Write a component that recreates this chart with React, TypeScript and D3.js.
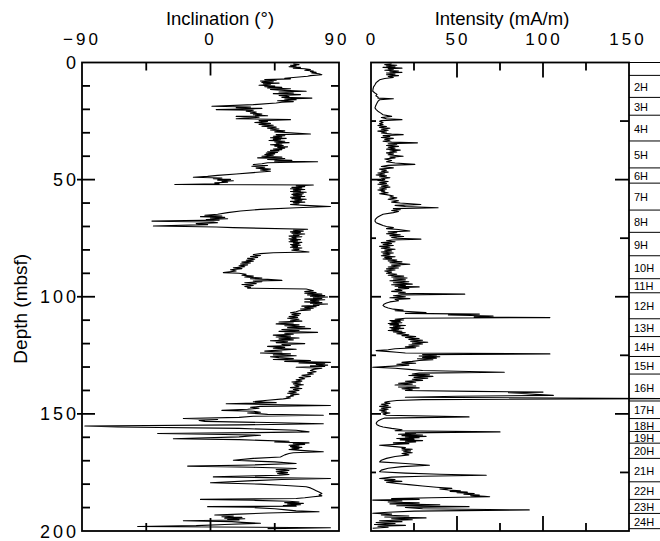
import React from "react";
import * as d3 from "d3";

// ---- data ----
const depthTicks = [0, 50, 100, 150, 200];
const depthMinor = [10, 20, 30, 40, 60, 70, 80, 90, 110, 120, 130, 140, 160, 170, 180, 190];
const depthRightTicks = [25, 50, 75, 100, 125, 150, 175];
const incTickLabels = [-90, 0, 90];
const incInnerTicks = [-45, 0, 45];
const intTickLabels = [0, 50, 100, 150];
const intInnerTicks = [25, 50, 75, 100, 125];

const coreBounds = [0, 5.5, 14.9, 22.5, 33.5, 45, 51.5, 63, 72.5, 82.5, 92.3, 98.3, 109.4, 117, 125.5, 133, 144.5, 152, 157.5, 162.5, 169, 179, 186.5, 192.5, 199];
const coreLabels = ["", "2H", "3H", "4H", "5H", "6H", "7H", "8H", "9H", "10H", "11H", "12H", "13H", "14H", "15H", "16H", "17H", "18H", "19H", "20H", "21H", "22H", "23H", "24H"];

// [depth (mbsf), inclination (deg)]
const inclination: [number, number][] = [
[0.6,58],[0.9,62],[1.2,56],[1.5,60],[1.8,55],[2.1,63],[2.4,58],[2.7,66],[3.0,70],[3.3,66],[3.6,72],[3.9,70],[4.2,74],[4.5,71],[4.8,76],[5.2,78],[5.6,70],[5.9,68],[6.3,60],[6.7,52],
[7.0,56],[7.3,38],[7.6,46],[7.9,35],[8.2,44],[8.5,36],[8.8,48],[9.1,37],[9.4,42],[9.7,34],[10.0,45],[10.3,38],[10.6,50],[10.9,40],[11.2,56],[11.5,42],[11.9,52],
[12.3,67],[12.6,48],[13.0,58],[13.3,44],[13.7,63],[14.1,48],[14.5,55],[14.9,50],[15.2,71],[15.6,52],[15.9,60],[16.3,47],[16.7,58],[17.0,50],[17.3,46],
[18.0,30],[18.7,1],[19.0,28],[19.3,18],[19.6,36],[19.9,22],[20.1,4],[20.4,30],[20.8,25],[21.2,32],[21.6,28],[22.0,36],[22.3,30],[22.7,40],[23.0,18],[23.4,34],[24.0,18],[24.4,56],[24.8,34],[25.2,40],[25.6,31],[26.0,42],[26.4,34],[26.8,44],[27.2,36],[27.6,46],[28.0,40],[28.4,48],[28.8,42],[29.2,52],[29.6,45],[30.0,56],[30.5,70],[30.8,46],[31.2,52],[31.5,44],
[31.8,50],[32.1,42],[32.4,53],[32.7,44],[33.0,49],[33.3,41],[33.6,52],[33.9,45],[34.2,55],[34.5,46],[34.8,50],[35.1,42],[35.4,51],[35.7,45],[36.0,54],[36.3,47],[36.6,52],[36.9,44],[37.2,50],[37.5,42],[37.8,48],[38.1,40],[38.4,47],[38.7,39],[39.0,45],[39.3,38],[39.6,44],[40.0,36],
[40.4,50],[40.7,33],[41.0,52],[41.4,40],[41.8,57],[42.1,45],[42.4,75],[42.8,40],
[43.2,36],[43.6,30],[44.0,40],[44.3,29],[44.7,38],[45.1,32],[45.5,42],[45.9,35],[46.4,42],
[47.0,30],[47.6,18],[48.2,5],[48.6,-2],[49.0,-12],[49.3,8],[49.6,2],[49.9,14],[50.2,5],[50.5,16],[50.8,8],[51.1,12],[51.4,3],[51.8,6],[52.1,-25],[52.3,72],
[52.7,60],[53.0,66],[53.3,57],[53.6,64],[53.9,56],[54.2,66],[54.5,58],[54.8,63],[55.1,56],[55.4,67],[55.7,58],[56.0,65],[56.3,57],[56.6,64],[56.9,58],[57.2,66],[57.5,56],[57.8,63],[58.1,57],[58.4,67],[58.7,59],[59.0,64],[59.3,56],[59.6,66],[59.9,58],[60.3,62],[60.6,56],[61.0,66],[61.5,84],[62.0,60],[62.7,35],[63.4,21],[64.1,12],[64.8,5],[65.2,-4],[65.5,8],[65.8,-7],[66.1,10],[66.4,0],[66.7,12],[67.0,-3],[67.3,6],[67.7,-41],[68.1,2],[68.4,5],[68.8,-10],[69.2,-2],[69.8,-40],[70.2,4],[70.5,16],[71.2,68],
[71.6,58],[72.0,65],[72.3,56],[72.6,63],[72.9,57],[73.2,66],[73.5,58],[73.8,62],[74.1,55],[74.4,64],[74.7,57],[75.0,60],[75.3,55],[75.6,63],[75.9,56],[76.2,61],[76.5,55],[76.8,64],[77.1,58],[77.4,62],[77.7,56],[78.0,63],[78.3,57],[78.6,61],[78.9,56],[79.2,64],[79.5,58],[79.8,62],[80.1,57],[80.5,63],[80.9,69],[81.2,44],
[81.6,35],[82.0,30],[82.4,35],[82.8,28],[83.2,33],[83.6,26],[84.0,31],[84.4,25],[84.8,30],[85.2,22],[85.6,28],[86.0,21],[86.4,26],[86.8,20],[87.2,24],[87.6,16],[88.0,22],[88.5,14],[89.0,18],[89.7,9],[90.0,20],[90.4,25],[90.8,22],[91.2,30],[91.6,24],[92.0,36],[92.3,28],[92.6,40],[93.0,50],[93.3,30],[93.6,36],[94.0,24],[94.4,32],[94.8,22],[95.2,30],[95.6,24],[96.0,28],[96.3,26],[96.7,67],[97.1,70],[97.4,72],
[97.8,66],[98.2,74],[98.5,66],[98.9,78],[99.2,68],[99.5,80],[99.8,70],[100.1,82],[100.4,72],[100.7,78],[101.0,66],[101.3,80],[101.6,70],[101.9,76],[102.2,66],[102.5,78],[102.8,70],[103.1,82],[103.4,72],[103.7,76],[104.0,64],[104.3,74],[104.6,66],[104.9,72],[105.2,63],[105.6,70],[106.0,62],
[106.4,60],[106.8,56],[107.2,63],[107.6,57],[108.0,62],[108.4,55],[108.8,61],[109.2,54],[109.6,62],[110.0,56],
[110.4,64],[110.8,48],[111.2,58],[111.6,46],[112.0,62],[112.4,52],[112.8,66],[113.2,54],[113.6,70],[114.0,50],[114.4,62],[114.8,48],[115.2,75],[115.6,52],[116.0,58],
[116.4,44],[116.8,56],[117.2,46],[117.6,62],[118.0,48],[118.4,58],[118.8,42],[119.2,54],[119.6,46],[120.0,66],[120.4,50],[120.8,56],[121.2,40],[121.6,52],[122.0,44],[122.4,60],[122.8,48],
[123.2,38],[123.6,50],[124.0,35],[124.4,56],[124.8,44],[125.2,60],[125.6,42],[126.0,48],
[126.4,58],[126.8,44],[127.2,70],[127.6,52],[128.0,84],[128.3,62],[128.6,80],[128.9,74],[129.2,82],[129.5,70],[129.8,80],[130.1,60],[130.5,78],
[131.0,72],[131.5,70],[132.0,74],[132.5,68],[133.0,72],[133.5,64],[134.0,70],[134.5,62],[135.0,66],[135.5,60],
[136.0,64],[136.4,57],[136.8,63],[137.2,58],[137.6,65],[138.0,59],[138.4,62],[138.8,56],[139.2,64],[139.6,58],[140.0,62],[140.4,55],[140.8,60],[141.2,54],[141.6,62],[142.0,56],[142.4,58],[142.8,53],[143.2,56],[143.6,51],
[144.2,40],[144.8,30],[145.2,46],[145.7,11],[146.0,40],[146.4,84],[146.8,35],[147.2,28],[147.6,34],[148.0,26],[148.5,8],[148.9,30],[149.3,35],[149.6,26],[149.9,33],[150.2,40],[150.6,79],[151.0,30],[151.5,20],[152.0,-19],[152.4,5],[152.8,-8],[153.2,-4],[153.7,40],[154.2,79],[154.7,20],[155.2,-88],[155.6,-65],[156.2,20],[157.0,60],[157.7,69],[158.0,30],[158.4,-37],[158.8,10],[159.1,35],[159.8,20],[160.6,-26],[161.0,20],[161.3,35],[161.7,55],[162.0,45],[162.4,69],[162.7,58],[163.0,66],[163.4,55],[163.7,62],[164.0,56],[164.3,64],[164.6,57],[164.9,62],[165.2,55],[165.6,63],[166.2,79],[166.6,58],[166.9,55],[167.5,52],[168.4,49],[169.0,30],[169.8,16],[170.5,45],[171.2,60],[171.8,30],[172.3,-16],[172.8,30],[173.3,60],[173.8,46],[174.2,55],[174.7,46],[175.1,54],[175.5,47],[175.9,55],[176.2,48],[176.9,2],[177.2,40],[177.6,84],[178.0,50],[178.5,30],[179.4,0],[180.0,35],[180.5,50],[181.1,67],[181.6,70],[182.2,72],[182.8,74],[183.4,76],[184.0,78],[184.6,76],[185.0,78],[185.4,72],[185.8,66],[186.1,60],[186.5,-7],[186.9,30],[187.3,55],[187.6,62],[187.9,52],[188.2,65],[188.5,54],[188.8,63],[189.1,51],[189.4,60],[189.6,-2],[190.0,30],[190.5,45],[191.0,53],[191.4,60],[191.8,76],[192.3,40],[192.8,20],[193.2,3],[193.6,16],[193.9,8],[194.2,22],[194.5,10],[194.8,24],[195.1,12],[195.3,20],[195.6,-19],[196.0,15],[196.3,22],[196.7,35],[197.2,10],[197.7,-10],[198.1,-51],[198.6,84],[199.0,40]
];

// [depth (mbsf), intensity (mA/m)]
const intensity: [number, number][] = [
[0.5,12],[0.9,8],[1.2,15],[1.5,9],[1.8,14],[2.1,7],[2.4,18],[2.7,10],[3.0,13],[3.3,8],[3.6,16],[3.9,11],[4.2,18],[4.5,9],[4.9,14],[5.2,9],[5.6,16],[6.0,10],[6.4,13],[6.8,8],[7.4,5],[8.0,4],[8.6,3],[9.5,2.3],[10.4,1.5],[11.2,1.2],[12.3,1],[13.0,2.3],[13.6,3.5],[14.2,2.8],[14.8,4.2],[15.2,4],[15.5,13],[15.9,5],[16.6,4],[17.3,3.5],[18.0,3],[18.7,2.6],[19.4,2.3],[20.1,3],[20.8,4],[21.5,5.5],[22.3,7],[23.0,12],[23.5,6],[24.0,9],[24.4,18],[24.8,6],[25.1,5],[25.6,7],[26.1,5],[26.5,7],[26.9,4],[27.3,9],[27.7,5],[28.1,11],[28.5,6],[28.9,10],[29.3,4],[29.7,9],[30.1,6],[30.5,12],[30.8,18.7],[31.2,7],[31.6,11],[32.0,6],[32.4,13],[32.8,8],[33.2,11],[33.6,7],[34.0,12],[34.3,27],[34.7,10],[35.0,15],[35.4,9],[35.8,16],[36.2,10],[36.6,14],[37.0,9],[37.4,17],[37.8,11],[38.2,15],[38.6,9],[39.0,13],[39.4,10],[40.0,18.7],[40.4,11],[40.7,14],[41.2,8],[41.8,12],[42.4,9],[42.9,14],[43.5,25.5],[43.9,10],[44.4,6],[45.0,13],[45.5,5],[46.0,9],[46.4,6],[46.8,10],[47.2,4],[47.6,8],[48.0,3],[48.4,9],[48.8,5],[49.2,11],[49.6,6],[50.0,8],[50.4,4],[50.8,10],[51.2,5],[51.6,9],[52.0,4],[52.4,10],[52.8,6],[53.2,11],[53.6,5],[54.0,9],[54.4,4],[54.8,8],[55.2,6],[55.6,10],[56.0,5],[56.4,9],[57.0,13],[57.4,11],[57.8,15],[58.4,10],[59.0,16],[59.6,12],[60.0,17],[60.6,29],[61.0,14],[61.5,20],[62.0,39],[62.4,13],[62.8,17],[63.2,12],[63.6,16],[64.1,13],[64.8,7],[65.5,5],[66.2,3.5],[67.0,2.5],[67.7,2.3],[68.4,3],[69.0,5],[69.6,7],[70.0,9],[70.5,13],[70.9,9],[71.3,16],[71.9,22.6],[72.3,10],[72.7,15],[73.1,9],[73.5,17],[73.9,11],[74.3,19],[74.7,12],[75.0,15],[75.4,29],[75.8,12],[76.1,9],[76.5,14],[76.9,6],[77.3,12],[77.7,7],[78.1,13],[78.5,5],[78.9,11],[79.3,6],[79.7,14],[80.1,8],[80.5,12],[80.9,6],[81.3,13],[81.7,7],[82.1,11],[82.5,6],[82.9,14],[83.2,8],[83.6,12],[83.9,7],[84.3,15],[84.7,10],[85.1,18],[85.5,11],[86.1,22.6],[86.5,12],[86.9,17],[87.3,10],[87.7,16],[88.1,9],[88.6,14],[89.0,8],[89.5,12],[90.0,9],[90.4,15],[90.8,10],[91.2,19],[91.6,12],[92.0,21],[92.4,13],[92.8,20],[93.2,11],[93.6,22],[94.0,13],[94.3,19],[94.6,24],[94.9,12],[95.2,20],[95.5,14],[95.8,28],[96.1,16],[96.5,22],[96.9,14],[97.3,18],[97.7,12],[98.1,20],[98.5,16],[98.9,54.5],[99.2,18],[99.6,13],[100.0,20],[100.4,11],[100.8,22.6],[101.2,14],[101.7,16],[102.2,11],[102.7,9],[103.2,7.5],[103.8,7],[104.3,8],[104.8,10],[105.3,13],[105.7,18.7],[106.0,14],[106.7,32],[107.1,20],[107.4,63],[107.8,45],[108.2,71],[108.6,60],[108.9,104],[109.2,20],[109.6,14],[109.9,19],[110.2,11],[110.5,17],[110.8,12],[111.1,18],[111.4,10],[111.7,16],[112.0,11],[112.3,20],[112.6,13],[112.9,17],[113.2,11],[113.5,19],[113.8,12],[114.1,16],[114.4,10],[114.7,18],[115.0,13],[115.4,20],[115.8,15],[116.2,22],[116.6,18],[117.0,26],[117.4,20],[117.8,28],[118.2,22],[118.6,30],[119.0,23],[119.4,33],[119.8,24],[120.2,30],[120.6,22],[121.0,28],[121.4,20],[121.8,26],[122.2,14],[122.6,10],[123.0,3],[123.3,9],[123.7,15],[124.0,20],[124.4,104],[124.7,30],[125.0,38],[125.3,28],[125.6,40],[125.9,30],[126.2,38],[126.5,27],[126.9,36],[127.2,28],[127.6,24],[128.0,18],[128.4,26],[128.8,15],[129.2,22],[129.6,13],[130.1,1],[130.5,14],[131.0,22],[131.5,30],[132.2,77.5],[132.6,28],[133.0,24],[133.3,34],[133.6,22],[134.0,36],[134.4,25],[134.8,33],[135.2,24],[135.7,30],[136.1,20],[136.5,26],[136.9,16],[137.3,24],[137.7,14],[138.1,26],[138.5,16],[138.9,28],[139.3,18],[139.7,24],[140.0,20],[140.4,60],[140.7,100],[141.0,80],[141.4,90],[141.8,98],[142.1,106],[142.5,50],[142.9,20],[143.5,170],[143.9,30],[144.3,15],[144.7,10],[145.1,8],[145.5,11],[145.9,6],[146.4,10],[146.8,5],[147.2,11.5],[147.6,6],[148.0,10],[148.4,5],[148.8,9],[149.2,6],[149.6,11],[150.0,7],[150.6,9],[151.3,57],[151.8,8],[152.3,6],[152.8,4.5],[153.4,3.5],[154.0,3],[154.6,3.5],[155.2,5],[155.6,7],[156.2,12],[156.8,18],[157.2,14],[157.7,75],[158.1,20],[158.4,26],[158.7,16],[159.0,30],[159.3,18],[159.6,32],[159.9,20],[160.2,28],[160.5,15],[160.8,25],[161.1,17],[161.4,30],[161.7,20],[162.0,26],[162.4,13],[162.7,22],[163.4,5],[164.0,14],[164.4,20],[164.8,18],[165.1,24],[165.4,18],[165.8,23],[166.2,19],[166.6,24],[166.9,18],[167.5,22],[168.2,14],[169.0,9],[169.8,6],[170.5,5],[171.2,20],[171.9,34],[172.5,18],[173.2,10],[174.0,6],[174.7,5],[175.3,20],[175.8,40],[176.2,67],[176.6,30],[177.0,12],[177.6,5],[178.0,14],[178.4,8],[178.8,18],[179.2,9],[179.7,15],[180.2,22],[180.8,30],[181.3,38],[181.8,47],[182.1,40],[182.5,45],[182.8,52],[183.1,46],[183.4,56],[183.7,50],[184.0,60],[184.3,54],[184.6,63],[184.9,58],[185.2,66],[185.4,69],[185.8,35],[186.2,12],[186.5,28],[186.8,1],[187.2,18],[187.6,10],[188.0,28],[188.4,11],[188.8,40],[189.2,15],[189.6,57],[190.0,20],[190.5,30],[191.0,92],[191.5,25],[192.0,10],[192.4,1],[192.8,12],[193.2,6],[193.6,22],[194.0,8],[194.4,32],[194.8,12],[195.2,24],[195.6,5],[196.0,18],[196.4,3],[196.8,14],[197.2,2],[197.6,20],[198.0,4],[198.4,10],[198.8,1]
];

const FONT = "'Liberation Sans', Arial, Helvetica, sans-serif";

export default function App() {
  const W = 660, H = 541;
  const top = 62.5, bottom = 531;
  const y = d3.scaleLinear().domain([0, 200]).range([top, bottom]);
  const xInc = d3.scaleLinear().domain([-90, 90]).range([82, 339]);
  const xInt = d3.scaleLinear().domain([0, 150]).range([371, 629]);

  const incLine = d3.line<[number, number]>().x(d => xInc(d[1])).y(d => y(d[0]));
  const intLine = d3.line<[number, number]>().x(d => xInt(d[1])).y(d => y(d[0]));

  const L0 = xInc.range()[0], L1 = xInc.range()[1];
  const R0 = xInt.range()[0], R1 = xInt.range()[1];
  const sw = 1.8;

  return (
    <svg width={W} height={H} style={{ position: "absolute", left: 0, top: 0, background: "#fff" }} fontFamily={FONT}>
      <rect x={0} y={0} width={W} height={H} fill="#fff" />

      {/* titles */}
      <text x={220} y={24.5} fontSize={18.5} textAnchor="middle">Inclination (°)</text>
      <text x={502} y={24.5} fontSize={18.5} textAnchor="middle">Intensity (mA/m)</text>
      <text transform={`translate(27,${(top + bottom) / 2 + 12}) rotate(-90)`} fontSize={19} textAnchor="middle">Depth (mbsf)</text>

      {/* inclination panel */}
      <g>
        <path d={incLine(inclination) || ""} fill="none" stroke="#000" strokeWidth={1.1} strokeLinejoin="round" />
        <rect x={L0} y={top} width={L1 - L0} height={bottom - top} fill="none" stroke="#000" strokeWidth={sw} />
        {incTickLabels.map(v => (
          <text key={v} x={xInc(v) + (v === 90 ? -2 : 0)} y={45} fontSize={17} textAnchor="middle" letterSpacing={3}>
            {v < 0 ? "\u2212" + Math.abs(v) : String(v)}
          </text>
        ))}
        {incInnerTicks.map(v => {
          const len = v === 0 ? 13 : 8;
          return (
            <g key={v}>
              <line x1={xInc(v)} x2={xInc(v)} y1={top} y2={top + len} stroke="#000" strokeWidth={sw} />
              <line x1={xInc(v)} x2={xInc(v)} y1={bottom} y2={bottom - len} stroke="#000" strokeWidth={sw} />
            </g>
          );
        })}
        {depthMinor.map(d => (
          <g key={d}>
            <line x1={L0} x2={L0 + 8} y1={y(d)} y2={y(d)} stroke="#000" strokeWidth={sw} />
            <line x1={L1} x2={L1 - 8} y1={y(d)} y2={y(d)} stroke="#000" strokeWidth={sw} />
          </g>
        ))}
        {depthTicks.filter(d => d > 0 && d < 200).map(d => (
          <g key={d}>
            <line x1={L0 - 5} x2={L0 + 13} y1={y(d)} y2={y(d)} stroke="#000" strokeWidth={sw} />
            <line x1={L1} x2={L1 - 10} y1={y(d)} y2={y(d)} stroke="#000" strokeWidth={sw} />
          </g>
        ))}
        {depthTicks.map(d => (
          <text key={d} x={79} y={y(d) + 6.5} fontSize={18} textAnchor="end" letterSpacing={3}>{d}</text>
        ))}
      </g>

      {/* intensity panel */}
      <g>
        <path d={intLine(intensity) || ""} fill="none" stroke="#000" strokeWidth={1.1} strokeLinejoin="round" />
        <rect x={R0} y={top} width={R1 - R0} height={bottom - top} fill="none" stroke="#000" strokeWidth={sw} />
        {intTickLabels.map(v => (
          <text key={v} x={xInt(v) + (v === 150 ? -1 : 1)} y={45} fontSize={17} textAnchor="middle" letterSpacing={3}>{v}</text>
        ))}
        {intInnerTicks.map(v => {
          const len = v % 50 === 0 ? 15 : 8;
          return (
            <g key={v}>
              <line x1={xInt(v)} x2={xInt(v)} y1={top} y2={top + len} stroke="#000" strokeWidth={sw} />
              <line x1={xInt(v)} x2={xInt(v)} y1={bottom} y2={bottom - len} stroke="#000" strokeWidth={sw} />
            </g>
          );
        })}
        {depthRightTicks.map(d => {
          const len = d % 50 === 0 ? 14 : 9;
          return (
            <g key={d}>
              <line x1={R0} x2={R0 + len - 4} y1={y(d)} y2={y(d)} stroke="#000" strokeWidth={sw} />
              <line x1={R1} x2={R1 - len} y1={y(d)} y2={y(d)} stroke="#000" strokeWidth={sw} />
            </g>
          );
        })}
      </g>

      {/* core column */}
      <g>
        {coreBounds.map((d, i) => (
          <line key={i} x1={R1} x2={W} y1={y(d)} y2={y(d)} stroke="#000" strokeWidth={1} />
        ))}
        {coreLabels.map((lab, i) => lab ? (
          <text key={lab} x={634} y={Math.min((y(coreBounds[i]) + y(coreBounds[i + 1])) / 2 + 4.5, y(coreBounds[i + 1]) - 1)} fontSize={11}>{lab}</text>
        ) : null)}
      </g>
    </svg>
  );
}
